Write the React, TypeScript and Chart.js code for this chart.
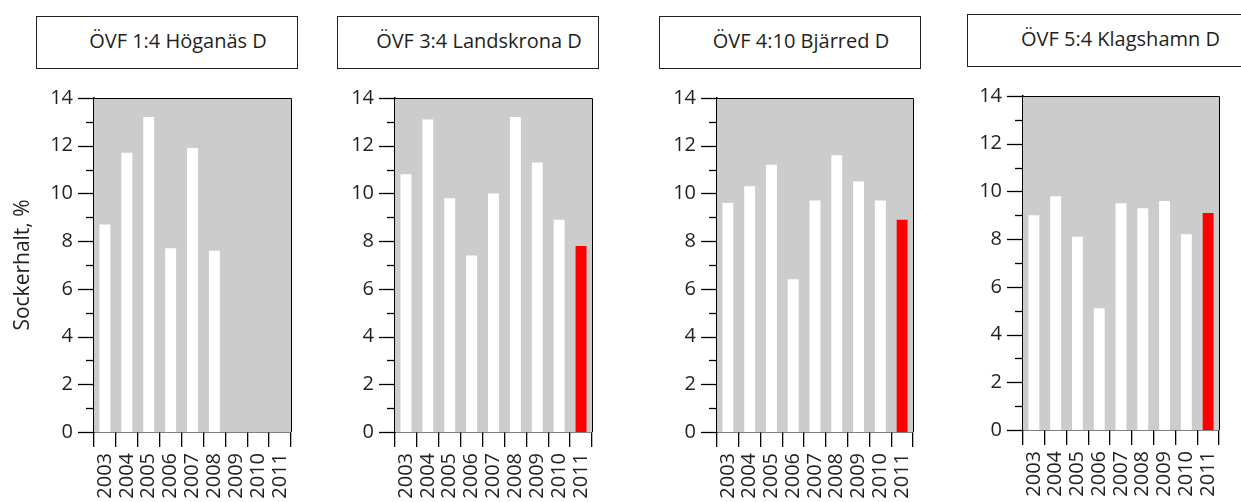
import React, { useEffect, useRef } from 'react';
import { Chart, registerables } from 'chart.js';

Chart.register(...registerables);

// ---- data ----
const years = ['2003', '2004', '2005', '2006', '2007', '2008', '2009', '2010', '2011'];
const highlightYear = '2011';

const titles = ['ÖVF 1:4 Höganäs D', 'ÖVF 3:4 Landskrona D', 'ÖVF 4:10 Bjärred D', 'ÖVF 5:4 Klagshamn D'];

const hoganas = [8.7, 11.7, 13.2, 7.7, 11.9, 7.6, null, null, null];
const landskrona = [10.8, 13.1, 9.8, 7.4, 10.0, 13.2, 11.3, 8.9, 7.8];
const bjarred = [9.6, 10.3, 11.2, 6.4, 9.7, 11.6, 10.5, 9.7, 8.9];
const klagshamn = [9.0, 9.8, 8.1, 5.1, 9.5, 9.3, 9.6, 8.2, 9.1];

const yMin = 0;
const yMax = 14;
const yMajorStep = 2;
const yMinorStep = 1;
const yAxisTitle = 'Sockerhalt, %';

// ---- styling / layout ----
const FONT = '"Open Sans", sans-serif';
const TEXT = '#231f20';
const PLOT_BG = '#cccccc';
const BAR_COLOR = '#ffffff';
const HIGHLIGHT_COLOR = '#ff0000';

const CANVAS_W = 310;
const CANVAS_H = 502;

const panelLayouts = [
  { canvasLeft: 0, yW: 94, top: 98, xH: 70, right: 19, boxLeft: 36, boxTop: 16, boxW: 262 },
  { canvasLeft: 305, yW: 90, top: 98, xH: 70, right: 23, boxLeft: 337, boxTop: 16, boxW: 262 },
  { canvasLeft: 625, yW: 92, top: 98, xH: 70, right: 22, boxLeft: 659, boxTop: 16, boxW: 262 },
  { canvasLeft: 931, yW: 92, top: 96, xH: 72, right: 22, boxLeft: 967, boxTop: 14, boxW: 285 },
];

const panelValues = [hoganas, landskrona, bjarred, klagshamn];

const framePlugin = {
  id: 'frame',
  beforeDatasetsDraw(chart: any) {
    const { ctx, chartArea: a } = chart;
    ctx.save();
    ctx.fillStyle = PLOT_BG;
    ctx.fillRect(a.left, a.top, a.right - a.left, a.bottom - a.top);
    ctx.restore();
  },
  afterDatasetsDraw(chart: any) {
    const { ctx, chartArea: a, scales } = chart;
    const y = scales.y;
    ctx.save();
    ctx.strokeStyle = '#000';
    ctx.lineWidth = 1;
    ctx.beginPath();
    ctx.moveTo(a.left, a.top + 0.5);
    ctx.lineTo(a.right + 0.5, a.top + 0.5);
    ctx.lineTo(a.right + 0.5, a.bottom);
    ctx.stroke();
    ctx.lineWidth = 1.3;
    for (let v = y.min; v <= y.max; v += yMinorStep) {
      const py = Math.round(y.getPixelForValue(v)) + 0.5;
      const len = v % yMajorStep === 0 ? 16 : 8;
      ctx.beginPath();
      ctx.moveTo(a.left - len, py);
      ctx.lineTo(a.left, py);
      ctx.stroke();
    }
    ctx.restore();
  },
};

function Panel({ idx }: { idx: number }) {
  const ref = useRef<HTMLCanvasElement | null>(null);
  const L = panelLayouts[idx];
  const values = panelValues[idx];
  useEffect(() => {
    if (!ref.current) return;
    const chart = new Chart(ref.current, {
      type: 'bar',
      data: {
        labels: years,
        datasets: [
          {
            data: values as any,
            backgroundColor: years.map((y) => (y === highlightYear ? HIGHLIGHT_COLOR : BAR_COLOR)),
            borderWidth: 0,
            barPercentage: 0.5,
            categoryPercentage: 1,
          },
        ],
      },
      options: {
        responsive: false,
        animation: false,
        layout: { padding: { top: L.top, right: L.right, left: 0, bottom: 0 } },
        plugins: {
          legend: { display: false },
          tooltip: { enabled: false },
          title: { display: false },
        },
        scales: {
          x: {
            grid: {
              display: true,
              drawOnChartArea: false,
              drawTicks: true,
              tickLength: 15,
              color: '#000',
              lineWidth: 1.3,
              offset: true,
            },
            border: { display: true, color: '#000', width: 1.5 },
            ticks: {
              maxRotation: 90,
              minRotation: 90,
              autoSkip: false,
              padding: 6,
              color: TEXT,
              font: { family: FONT, size: 20 },
            },
            afterFit: (s: any) => {
              s.height = L.xH;
              s.paddingLeft = 0;
              s.paddingRight = 0;
            },
          },
          y: {
            min: yMin,
            max: yMax,
            grid: { display: false, drawTicks: false },
            border: { display: true, color: '#000', width: 1.5 },
            ticks: {
              stepSize: yMajorStep,
              padding: 21,
              color: TEXT,
              font: { family: FONT, size: 20 },
            },
            title: {
              display: idx === 0,
              text: yAxisTitle,
              color: TEXT,
              font: { family: FONT, size: 21 },
              padding: { top: 10, bottom: 0 },
            },
            afterFit: (s: any) => {
              s.width = L.yW;
            },
          },
        },
      } as any,
      plugins: [framePlugin],
    });
    return () => chart.destroy();
  }, [idx]);

  return (
    <>
      <canvas
        ref={ref}
        width={CANVAS_W}
        height={CANVAS_H}
        style={{ position: 'absolute', left: L.canvasLeft, top: 0, width: CANVAS_W, height: CANVAS_H }}
      />
      <div
        style={{
          position: 'absolute',
          left: L.boxLeft,
          top: L.boxTop,
          width: L.boxW,
          height: 53,
          boxSizing: 'border-box',
          border: '1px solid #231f20',
          background: '#fff',
          display: 'flex',
          alignItems: 'center',
          justifyContent: 'center',
          paddingLeft: 22,
          paddingBottom: 4,
          fontFamily: FONT,
          fontSize: 20,
          color: TEXT,
          whiteSpace: 'nowrap',
        }}
      >
        {titles[idx]}
      </div>
    </>
  );
}

export default function App() {
  return (
    <div
      style={{
        position: 'absolute',
        left: 0,
        top: 0,
        width: 1241,
        height: 502,
        overflow: 'hidden',
        background: '#fff',
      }}
    >
      {panelLayouts.map((_, i) => (
        <Panel key={i} idx={i} />
      ))}
    </div>
  );
}
